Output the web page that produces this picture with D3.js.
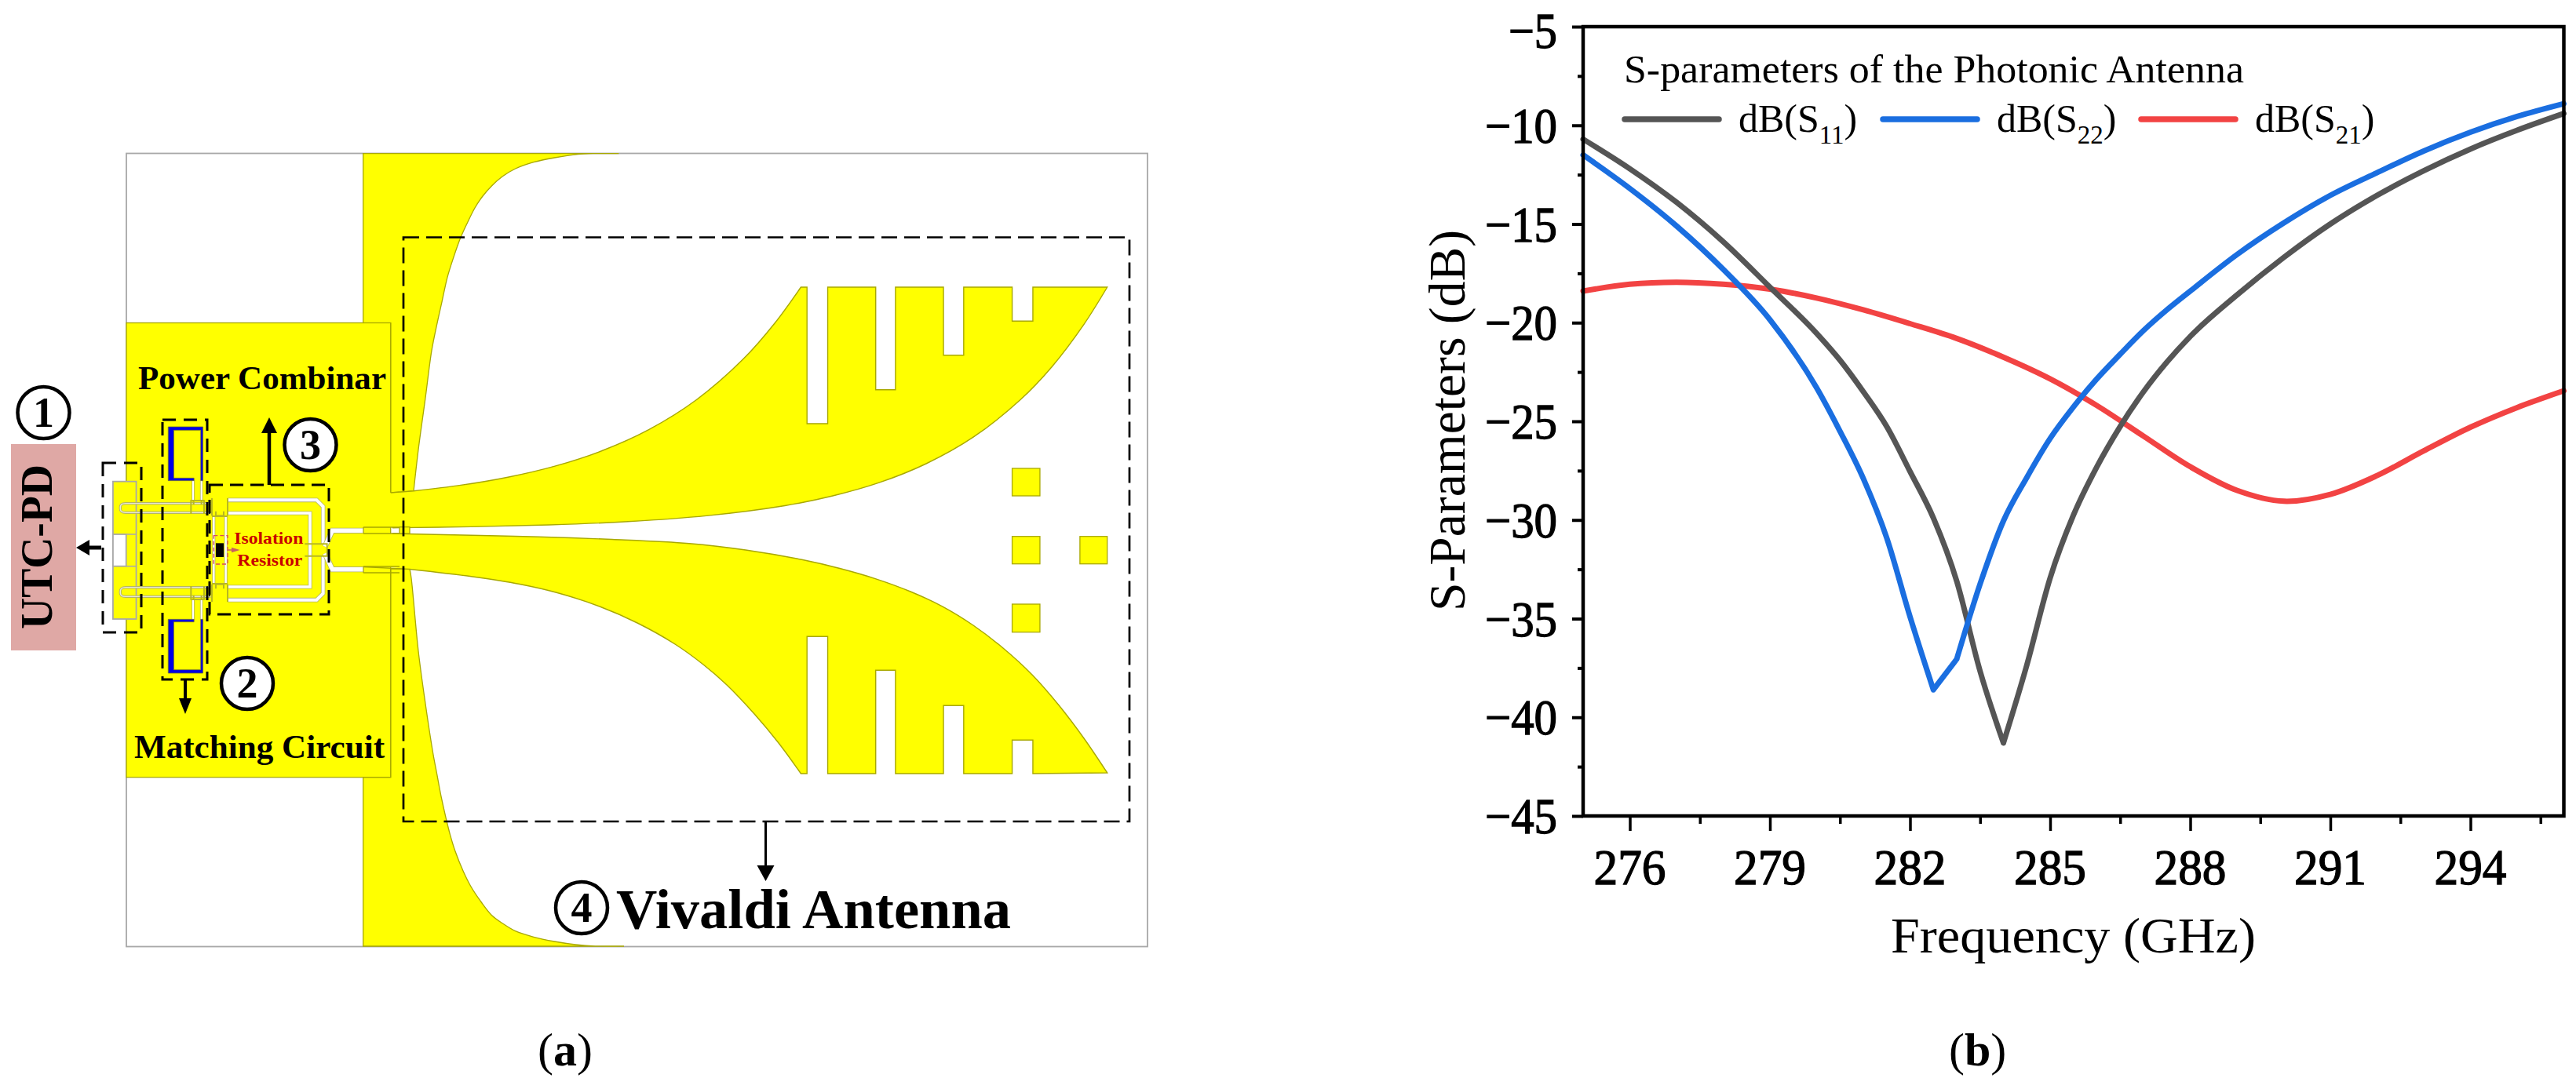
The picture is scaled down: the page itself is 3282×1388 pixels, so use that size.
<!DOCTYPE html>
<html><head><meta charset="utf-8">
<style>html,body{margin:0;background:#fff}svg{display:block}text{font-family:"Liberation Serif",serif}</style>
<script src="https://cdn.jsdelivr.net/npm/d3@7/dist/d3.min.js"></script>
</head><body><svg id="c" width="3282" height="1388"></svg>
<script>
// ---------- chart data ----------
const s11Freq = [275,276,277,278,279,280,280.5,281,281.5,282,282.5,283,283.5,284,284.5,285,285.5,286,286.5,287,287.5,288,289,290,291,292,293,294,295,296];
const s11Vals = [-10.7,-12.2,-13.9,-15.9,-18.2,-20.54,-21.9,-23.5,-25.26,-27.54,-29.9,-33.1,-37.66,-41.3,-37.36,-32.94,-29.75,-27.31,-25.26,-23.5,-22,-20.7,-18.6,-16.7,-15,-13.55,-12.3,-11.2,-10.25,-9.4];
const s22Freq = [275,276,277,278,279,280,280.5,281,281.5,282,282.5,283,283.5,284,284.5,285,285.5,286,286.5,287,287.5,288,289,290,291,292,293,294,295,296];
const s22Vals = [-11.5,-13.2,-15.1,-17.3,-19.85,-23.3,-25.5,-27.9,-30.9,-34.9,-38.6,-37.05,-33.25,-30.05,-27.85,-25.87,-24.27,-22.85,-21.6,-20.4,-19.35,-18.4,-16.55,-14.95,-13.55,-12.4,-11.3,-10.35,-9.55,-8.9];
const s21Freq = [275,276,277,278,279,280,281,282,283,284,285,286,287,288,289,290,291,292,293,294,295,296];
const s21Vals = [-18.4,-18.05,-17.95,-18.05,-18.3,-18.75,-19.35,-20.05,-20.8,-21.75,-22.85,-24.2,-25.75,-27.3,-28.5,-29.05,-28.7,-27.75,-26.5,-25.3,-24.3,-23.45];
const s11Breaks = [284];
const s22Breaks = [282.5,283];
const s21Breaks = [];
const seriesNames = ["dB(S","dB(S","dB(S"];
const seriesSubs = ["11","22","21"];
const seriesColors = ["#555555","#1a6ee0","#f24343"];
const xTicks = [276,279,282,285,288,291,294];
const xMinor = [277.5,280.5,283.5,286.5,289.5,292.5,295.5];
const yTicks = [-5,-10,-15,-20,-25,-30,-35,-40,-45];
const yMinor = [-7.5,-12.5,-17.5,-22.5,-27.5,-32.5,-37.5,-42.5];
const xTitle = "Frequency (GHz)", yTitle = "S-Parameters (dB)", legendTitle = "S-parameters of the Photonic Antenna";

const svg = d3.select("#c");
const YEL="#ffff00", OL="#a8a800", GR="#a8a8a8";
function txt(p,s,x,y,size,o={}){const t=p.append("text").attr("x",x).attr("y",y).attr("font-size",size).attr("fill",o.fill||"#000")
  .attr("font-weight",o.bold?"bold":"normal").attr("text-anchor",o.anchor||"start").text(s);
  if(o.len)t.attr("textLength",o.len).attr("lengthAdjust","spacingAndGlyphs");
  if(o.stroke)t.attr("stroke",o.fill||"#000").attr("stroke-width",o.stroke);
  if(o.rot)t.attr("transform",`rotate(-90 ${x} ${y})`);return t;}

// ---------- panel (b): chart ----------
const x = d3.scaleLinear().domain([275,296]).range([2017,3266.5]);
const y = d3.scaleLinear().domain([-45,-5]).range([1040,34]);
const b = svg.append("g");
function axisStyle(g){g.select(".domain").remove();g.selectAll("line").attr("stroke","#000");}
const xa=b.append("g").attr("transform","translate(0,1040)").call(d3.axisBottom(x).tickValues(xTicks).tickSize(19).tickFormat(""));
axisStyle(xa);xa.selectAll("line").attr("stroke-width",3.5);
const xm=b.append("g").attr("transform","translate(0,1040)").call(d3.axisBottom(x).tickValues(xMinor).tickSize(10).tickFormat(""));
axisStyle(xm);xm.selectAll("line").attr("stroke-width",3.5);
const ya=b.append("g").attr("transform","translate(2017,0)").call(d3.axisLeft(y).tickValues(yTicks).tickSize(14).tickFormat(""));
axisStyle(ya);ya.selectAll("line").attr("stroke-width",4);
const ym=b.append("g").attr("transform","translate(2017,0)").call(d3.axisLeft(y).tickValues(yMinor).tickSize(7).tickFormat(""));
axisStyle(ym);ym.selectAll("line").attr("stroke-width",4);
xTicks.forEach(v=>txt(b,String(v),x(v),1127,64,{anchor:"middle",stroke:1.3,len:92}));
yTicks.forEach(v=>txt(b,"\u2212"+Math.abs(v),1984,y(v)+(v===-5?27:22),64,{anchor:"end",stroke:1.3,len:Math.abs(v)<10?62:92}));
txt(b,xTitle,2409,1214,64,{len:465});
txt(b,yTitle,1866,779,66,{rot:1,len:486});
const lgS=d3.line().x(d=>x(d[0])).y(d=>y(d[1])).curve(d3.curveCatmullRom);
const lgM=d3.line().x(d=>x(d[0])).y(d=>y(d[1])).curve(d3.curveMonotoneX);
function segPath(fr,va,br,lg){const pts=fr.map((f,i)=>[f,va[i]]);let out="",start=0;
  br.forEach(k=>{const e=fr.indexOf(k);out+=lg(pts.slice(start,e+1));start=e;});return out+lg(pts.slice(start));}
[[s21Freq,s21Vals,s21Breaks,2,lgS],[s11Freq,s11Vals,s11Breaks,0,lgM],[s22Freq,s22Vals,s22Breaks,1,lgM]].forEach(([f,v,k,c,lg])=>{
  b.append("path").attr("d",segPath(f,v,k,lg)).attr("fill","none").attr("stroke",seriesColors[c]).attr("stroke-width",7).attr("stroke-linejoin","round").attr("stroke-linecap","round");});
b.append("rect").attr("x",x(275)).attr("y",y(-5)).attr("width",x(296)-x(275)).attr("height",y(-45)-y(-5)).attr("fill","none").attr("stroke","#000").attr("stroke-width",4.5);
txt(b,legendTitle,2069,105,50,{len:790});
seriesNames.forEach((n,i)=>{const lx=2070+i*329;
  b.append("line").attr("x1",lx).attr("x2",lx+120).attr("y1",152).attr("y2",152).attr("stroke",seriesColors[i]).attr("stroke-width",7.5).attr("stroke-linecap","round");
  const t=txt(b,n,lx+145,168,50);
  t.append("tspan").attr("font-size",33).attr("dy",15).text(seriesSubs[i]);
  t.append("tspan").attr("dy",-15).text(")");});

// ---------- panel (a): layout diagram ----------
const ax=p=>p/2.8, ay=p=>400+p/3;
const fx=p=>140+p/3, fy=p=>520+p/3;
const wx=p=>500+p/1.668;
const id=v=>v;
const a=svg.append("g");
const P=(g,d,fill,stroke,w)=>g.append("path").attr("d",d).attr("fill",fill||"none").attr("stroke",stroke||"none").attr("stroke-width",w||1.3);
const R=(g,x0,y0,x1,y1,fill,stroke,w)=>g.append("rect").attr("x",x0).attr("y",y0).attr("width",x1-x0).attr("height",y1-y0).attr("fill",fill||"none").attr("stroke",stroke||"none").attr("stroke-width",w||1.3);
const curve=(pts,fxx,fyy)=>d3.line().x(d=>fxx(d[0])).y(d=>fyy(d[1])).curve(d3.curveCatmullRom)(pts);
const sl=(pts)=>pts.map(d=>`L${d[0]},${d[1]}`).join("");
R(a,161,195.5,1462,1206.5,"#fff",GR,1.8);
// flared ground
const flareTop=[[1015,17],[915,17],[860,20],[770,33],[690,50],[620,75],[570,105],[530,140],[495,180],[465,225],[435,285],[410,340],[385,410],[360,490],[340,580],[320,670],[300,770],[276,951],[249,1149],[231,1308]];
const flareBot=[[216,-555],[222,-519],[249,-240],[276,-39],[305,150],[320,230],[335,310],[355,400],[370,460],[390,525],[420,600],[450,660],[490,720],[530,770],[570,800],[620,830],[690,853],[770,870],[850,882],[925,888],[1035,888]];
const tx=p=>450+p/3, tTop=p=>190+p/3, tBot=p=>910+p/3;
P(a,curve(flareTop,tx,tTop)+"L497.7,628L497.7,412L462.7,412L462.7,195.6Z",YEL,OL);
P(a,curve(flareBot,tx,tBot)+"L462.7,1206L462.7,990.7L497.7,990.7L497.7,725Z",YEL,OL);
R(a,161,411.5,497.7,990.7,YEL,OL);
// tapered slot wings with corrugations (page px)
const upOuter=[[500,672.7],[600,671.4],[700,669],[800,664.8],[900,657.4],[1000,644.5],[1060,632.3],[1120,615.2],[1180,591],[1240,557.2],[1300,509.5],[1340,467.7],[1380,414.9],[1410.7,366]];
const upInner=[[1020.4,366],[987,412],[947,457.6],[887,509.8],[827,547.4],[767,574.5],[707,594.1],[647,608.2],[587,618.4],[527,625.7]];
const upTeeth=[[wx(1361),366],[wx(1361),409.3],[wx(1317),409.3],[wx(1317),366],[wx(1214),366],[wx(1214),452.7],[wx(1171),452.7],[wx(1171),366],[wx(1069),366],[wx(1069),496.7],[wx(1027),496.7],[wx(1027),366],[wx(925),366],[wx(925),540],[wx(881),540],[wx(881),366]];
const upOpen=curve(upOuter,id,id)+sl(upTeeth)+curve(upInner,id,id).replace("M","L");
P(a,upOpen+"L496,628L496,672L500,672Z",YEL,null);
P(a,upOpen+"L497.7,628",null,OL,1.4);
const loOuter=[[500,680],[590,682],[686,684.2],[780,687.5],[878,692.7],[950,701],[1021.6,713.3],[1070,724.5],[1117.5,738.3],[1160,754],[1201.4,773.3],[1240,797],[1278,826],[1315,860],[1350,900],[1381,941],[1410.7,985]];
const loInner=[[1020.4,986],[992,947],[962,911],[926,873],[896,847],[860,821],[812,794],[764,773],[710,755.5],[662,744.5],[602,735],[522,725.5]];
const loTeeth=[[wx(1361),986],[wx(1361),943.3],[wx(1317),943.3],[wx(1317),986],[wx(1214),986],[wx(1214),899.3],[wx(1171),899.3],[wx(1171),986],[wx(1069),986],[wx(1069),854.3],[wx(1027),854.3],[wx(1027),986],[wx(925),986],[wx(925),811.3],[wx(881),811.3],[wx(881),986]];
const loOpen=curve(loOuter,id,id)+sl(loTeeth)+curve(loInner,id,id).replace("M","L");
P(a,loOpen+"L496,723L496,680Z",YEL,null);
P(a,loOpen+"L463,722.5",null,OL,1.4);
R(a,509,671.7,522,680,YEL,OL);
// director squares
[[1317,597,1376,632],[1317,683.7,1376,718.7],[1461,683.7,1519,718.7],[1317,770,1376,805.7]].forEach(s=>R(a,wx(s[0]),s[1],wx(s[2]),s[3],YEL,OL));
// UTC-PD pads
R(a,ax(403),ay(641),ax(486),ay(1167),YEL,GR,1.8);
R(a,ax(403),ay(843),ax(450),ay(965),"#fff",GR,1.8);
a.append("line").attr("x1",ax(450)).attr("x2",ax(486)).attr("y1",ay(843)).attr("y2",ay(843)).attr("stroke",GR).attr("stroke-width",1.5);
a.append("line").attr("x1",ax(450)).attr("x2",ax(486)).attr("y1",ay(965)).attr("y2",ay(965)).attr("stroke",GR).attr("stroke-width",1.5);
// mirrored feed network halves
[0,1].forEach(m=>{
  const g=a.append("g"); if(m) g.attr("transform","translate(0,1402) scale(1,-1)");
  const slot=(pts,w)=>{const d=d3.line().x(q=>fx(q[0])).y(q=>fy(q[1]))(pts);
    P(g,d,null,"#b5b566",w+1.6);P(g,d,null,"#fff",w);};
  const feed=`M${fx(385)},${fy(365)}H${fx(60)}Q${fx(38)},${fy(365)} ${fx(40)},${fy(382)}Q${fx(38)},${fy(400)} ${fx(60)},${fy(400)}H${fx(385)}`;
  P(g,feed,null,"#b5b566",3.2);P(g,feed,null,"#e8e8d8",1.4);
  slot([[318,275],[318,352]],2); slot([[350,275],[350,352]],2);
  const blue=[[600,432],[724,432],[724,638],[716,638],[716,445],[620,445],[620,628],[692,628],[692,638],[600,638]];
  P(g,"M"+blue.map(q=>`${ax(q[0])},${ay(q[1])}`).join("L")+"Z","#0000e6","#77772a",0.8);
  slot([[450,352],[790,352],[815,377],[815,520]],4);
  slot([[450,402],[765,402],[765,543]],3.5);
  slot([[397,415],[397,543]],2.4);slot([[443,415],[443,543]],2.4);
  slot([[822,530],[850,469],[970,469]],5.5);
  P(g,"M463,672H509M463,680H509M463,672V680",null,OL,1.3);
  const ol=(d,w)=>P(g,d,null,"#b8b820",w||1.8);
  ol(`M${fx(390)},${fy(345)}V${fy(412)}M${fx(450)},${fy(345)}V${fy(412)}M${fx(390)},${fy(414)}H${fx(450)}M${fx(405)},${fy(395)}V${fy(412)}H${fx(435)}V${fy(395)}`,2);
  ol(`M${fx(310)},${fy(352)}V${fy(405)}M${fx(360)},${fy(352)}V${fy(405)}M${fx(310)},${fy(354)}H${fx(360)}M${fx(320)},${fy(370)}V${fy(354)}M${fx(350)},${fy(370)}V${fy(354)}`,2);
  ol(`M${fx(745)},${fy(520)}H${fx(830)}V${fy(543)}`,2);
  P(g,`M${fx(372)},${fy(365)}V${fy(405)}M${fx(381)},${fy(365)}V${fy(405)}`,null,"#222",2);
});
// isolation resistor
R(a,fx(405),fy(517),fx(435),fy(570),"#000");
R(a,fx(397),fy(488),fx(450),fy(597),null,"#d84a5a",1.3).attr("stroke-dasharray","5,3");
P(a,`M${fx(450)},${fy(543)}H${fx(470)}`,null,"#c86060",1.5);
P(a,`M${fx(465)},${fy(533)}L${fx(497)},${fy(543)}L${fx(465)},${fy(553)}Z`,"#c86060");
txt(a,"Isolation",fx(475),fy(518),22,{bold:1,fill:"#c80000",len:88});
txt(a,"Resistor",fx(487),fy(603),22,{bold:1,fill:"#c80000",len:83});
// dashed selection boxes
const dash=(x0,y0,x1,y1,w,da)=>R(a,x0,y0,x1,y1,null,"#000",w).attr("stroke-dasharray",da);
dash(131,590,180,806,3,"17,10");
dash(207,535,264,866,3,"17,10");
dash(267,618,419,783,3,"17,9");
dash(514,302.5,1439,1047,2.7,"20,9");
// arrows
function arrow(x0,y0,x1,y1,w,hw,hl){const ang=Math.atan2(y1-y0,x1-x0),cx=x1-hl*Math.cos(ang),cy=y1-hl*Math.sin(ang);
  a.append("line").attr("x1",x0).attr("y1",y0).attr("x2",cx).attr("y2",cy).attr("stroke","#000").attr("stroke-width",w);
  const nx=-Math.sin(ang)*hw/2,ny=Math.cos(ang)*hw/2;
  a.append("path").attr("d",`M${x1},${y1}L${cx+nx},${cy+ny}L${cx-nx},${cy-ny}Z`).attr("fill","#000");}
arrow(129,698,97,698,5,20,17);
arrow(343,618,343,532,4.5,20,20);
arrow(236,866,236,910,4,16,20);
arrow(975.5,1047,975.5,1123,3,22,20);
// UTC-PD label
R(a,14,566,97,829,"#dfa8a5");
txt(a,"UTC-PD",66,802,58,{bold:1,rot:1,len:210});
// numbered circles
[["1",55.5,526],["3",395.5,567],["2",315,871],["4",741,1157]].forEach(([s,cx,cy])=>{
  a.append("circle").attr("cx",cx).attr("cy",cy).attr("r",33).attr("fill","#fff").attr("stroke","#000").attr("stroke-width",4.5);
  txt(a,s,cx,cy+18,54,{bold:1,anchor:"middle"});});
txt(a,"Power Combinar",176,496,42,{bold:1,len:316});
txt(a,"Matching Circuit",171,966,42,{bold:1,len:319});
txt(a,"Vivaldi Antenna",785,1183,72,{bold:1,len:503});
// captions
const cap=(s,px,py)=>{const t=txt(svg,"(",px,py,60);t.append("tspan").attr("font-weight","bold").text(s);t.append("tspan").text(")");};
cap("a",685,1358);cap("b",2483,1358);
</script></body></html>
